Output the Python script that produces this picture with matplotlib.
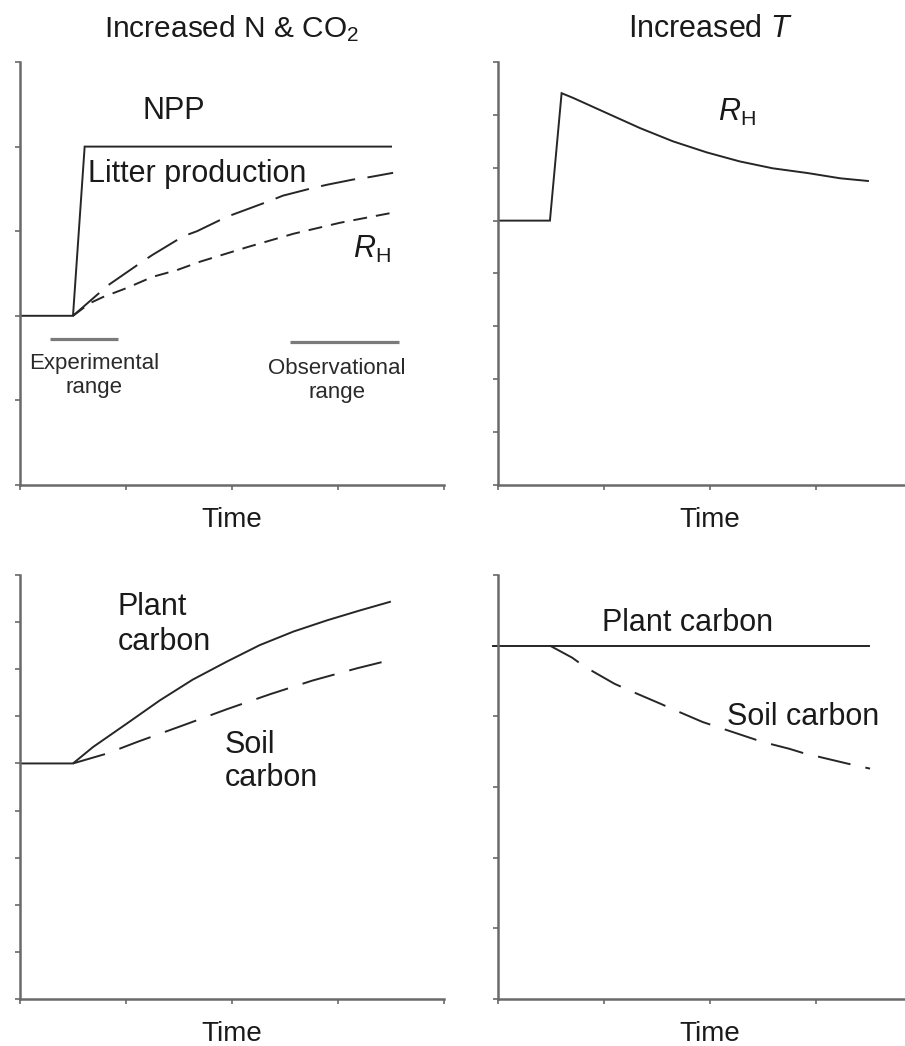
import matplotlib
matplotlib.use("Agg")
import matplotlib.pyplot as plt

plt.rcParams['font.family'] = ['Liberation Sans', 'DejaVu Sans']
plt.rcParams['mathtext.fontset'] = 'custom'
plt.rcParams['mathtext.rm'] = 'Liberation Sans'
plt.rcParams['mathtext.it'] = 'Liberation Sans:italic'
plt.rcParams['lines.scale_dashes'] = False

# ---------------- data ----------------
# Top-left: Increased N & CO2
npp_x = [0.0, 0.5, 0.61, 3.5]
npp_y = [2.0, 2.0, 4.0, 4.0]
litter_x = [0.5, 0.83, 1.13, 1.25, 1.54, 1.67, 1.95, 2.08, 2.36, 2.48, 2.76, 2.90, 3.14, 3.30, 3.52]
litter_y = [2.0, 2.36, 2.62, 2.72, 2.94, 3.00, 3.17, 3.23, 3.36, 3.42, 3.51, 3.55, 3.61, 3.64, 3.69]
rh1_x = [0.5, 0.66, 0.78, 1.01, 1.25, 1.48, 1.70, 2.14, 2.58, 3.02, 3.52]
rh1_y = [2.0, 2.15, 2.22, 2.33, 2.46, 2.54, 2.64, 2.81, 2.97, 3.10, 3.22]
exp_range_x = [0.28, 0.92]
exp_range_y = [1.73, 1.73]
obs_range_x = [2.55, 3.58]
obs_range_y = [1.69, 1.69]

# Top-right: Increased T
rh2_x = [0.0, 0.49, 0.60, 0.71, 1.03, 1.34, 1.65, 1.97, 2.28, 2.59, 2.92, 3.23, 3.49]
rh2_y = [5.0, 5.0, 7.41, 7.32, 7.03, 6.75, 6.50, 6.29, 6.12, 5.99, 5.90, 5.80, 5.75]

# Bottom-left: Increased N & CO2, carbon pools
plant1_x = [0.0, 0.5, 0.69, 1.01, 1.32, 1.63, 1.95, 2.26, 2.58, 2.90, 3.21, 3.49]
plant1_y = [5.0, 5.0, 5.35, 5.85, 6.34, 6.78, 7.16, 7.51, 7.80, 8.04, 8.25, 8.43]
soil1_x = [0.5, 0.82, 1.11, 1.54, 1.95, 2.36, 2.76, 3.18, 3.52]
soil1_y = [5.0, 5.21, 5.46, 5.81, 6.15, 6.47, 6.76, 7.02, 7.21]

# Bottom-right: Increased T, carbon pools
plant2_x = [-0.05, 3.5]
plant2_y = [5.0, 5.0]
soil2_x = [0.49, 0.70, 0.82, 1.10, 1.25, 1.53, 1.65, 1.93, 2.07, 2.35, 2.49, 2.75, 2.88, 3.16, 3.30, 3.51]
soil2_y = [5.0, 4.83, 4.70, 4.46, 4.36, 4.18, 4.10, 3.92, 3.85, 3.71, 3.64, 3.54, 3.48, 3.38, 3.33, 3.26]

x_ticks = [0, 1, 2, 3, 4]
tl_yticks = [0, 1, 2, 3, 4, 5]
tr_yticks = [0, 1, 2, 3, 4, 5, 6, 7, 8]
bl_yticks = [0, 1, 2, 3, 4, 5, 6, 7, 8, 9]
br_yticks = [0, 1, 2, 3, 4, 5, 6]

# ---------------- styling ----------------
W, H = 905, 1046
fig = plt.figure(figsize=(W / 100, H / 100), dpi=100)

LINE = '#262626'
SPINE = '#6a6a6a'
TXT = '#1a1a1a'
LW = 1.4
FS = 22


def make_ax(x0, y_top, y_bot, yticks):
    ax = fig.add_axes([x0 / W, 1 - y_bot / H, 424 / W, (y_bot - y_top) / H])
    ax.set_xlim(0, 4)
    ax.set_ylim(yticks[0], yticks[-1])
    ax.set_xticks(x_ticks)
    ax.set_yticks(yticks)
    ax.set_xticklabels([])
    ax.set_yticklabels([])
    for s in ('top', 'right'):
        ax.spines[s].set_visible(False)
    for s in ('left', 'bottom'):
        ax.spines[s].set_color(SPINE)
        ax.spines[s].set_linewidth(1.8)
    ax.tick_params(direction='out', length=3.5, width=1.2, color=SPINE)
    ax.set_xlabel('Time', fontsize=20, labelpad=9, color=TXT)
    ax.patch.set_alpha(0)
    return ax


ax_tl = make_ax(20, 62, 485, tl_yticks)
ax_tr = make_ax(498, 62, 485, tr_yticks)
ax_bl = make_ax(20, 575, 999, bl_yticks)
ax_br = make_ax(498, 575, 999, br_yticks)

ax_tl.set_title('Increased N & CO$_2$', fontsize=21.5, pad=18, color=TXT)
ax_tr.set_title('Increased $T$', fontsize=22, pad=18, color=TXT)

# --- top-left ---
ax_tl.plot(npp_x, npp_y, color=LINE, lw=LW, solid_joinstyle='miter')
l1, = ax_tl.plot(litter_x, litter_y, color=LINE, lw=LW)
l1.set_dashes((25, 9))
l2, = ax_tl.plot(rh1_x, rh1_y, color=LINE, lw=LW)
l2.set_dashes((10, 6.5))
ax_tl.plot(exp_range_x, exp_range_y, color='#7a7a7a', lw=2.3, solid_capstyle='butt')
ax_tl.plot(obs_range_x, obs_range_y, color='#7a7a7a', lw=2.3, solid_capstyle='butt')
ax_tl.text(1.16, 4.33, 'NPP', fontsize=FS, color=TXT, va='baseline')
ax_tl.text(0.64, 3.58, 'Litter production', fontsize=FS, color=TXT, va='baseline')
ax_tl.text(3.14, 2.68, r'$R_{\mathrm{H}}$', fontsize=FS, color=TXT, va='baseline')
# multi-line texts: y is the baseline of the last line
ax_tl.text(0.70, 1.09, 'Experimental\nrange', fontsize=16, color='#2a2a2a',
           ha='center', va='baseline', linespacing=1.17, multialignment='center')
ax_tl.text(2.99, 1.03, 'Observational\nrange', fontsize=16, color='#2a2a2a',
           ha='center', va='baseline', linespacing=1.2, multialignment='center')

# --- top-right ---
ax_tr.plot(rh2_x, rh2_y, color=LINE, lw=LW, solid_joinstyle='miter')
ax_tr.text(2.08, 6.88, r'$R_{\mathrm{H}}$', fontsize=FS, color=TXT, va='baseline')

# --- bottom-left ---
ax_bl.plot(plant1_x, plant1_y, color=LINE, lw=LW)
s1, = ax_bl.plot(soil1_x, soil1_y, color=LINE, lw=LW)
s1.set_dashes((24, 11))
ax_bl.text(0.92, 7.41, 'Plant\ncarbon', fontsize=FS, color=TXT, va='baseline', linespacing=1.22)
ax_bl.text(1.93, 4.52, 'Soil\ncarbon', fontsize=FS, color=TXT, va='baseline', linespacing=1.15)

# --- bottom-right ---
ax_br.plot(plant2_x, plant2_y, color=LINE, lw=LW, clip_on=False)
s2, = ax_br.plot(soil2_x, soil2_y, color=LINE, lw=LW)
s2.set_dashes((24, 11))
ax_br.text(0.98, 5.21, 'Plant carbon', fontsize=FS, color=TXT, va='baseline')
ax_br.text(2.16, 3.88, 'Soil carbon', fontsize=FS, color=TXT, va='baseline')

fig.savefig('out.png', dpi=100, facecolor='white')
